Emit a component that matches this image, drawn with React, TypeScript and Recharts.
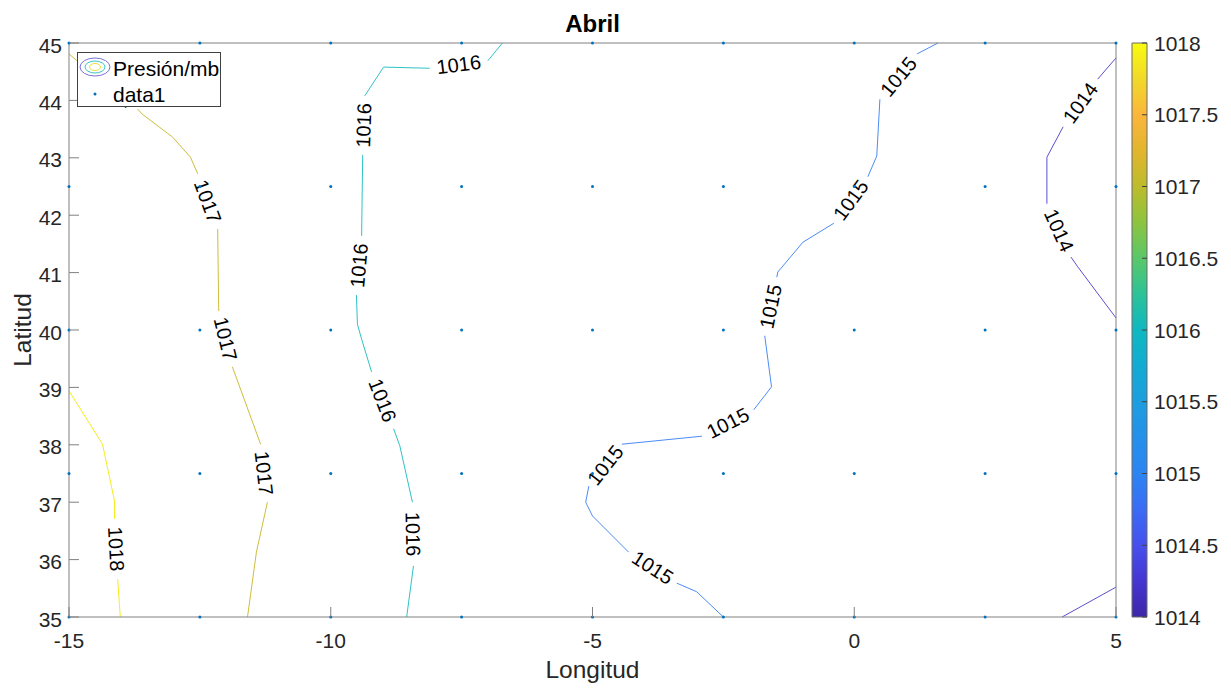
import React from 'react';
import { ComposedChart, Line, Scatter, Bar, XAxis, YAxis } from 'recharts';

// ---------- data ----------
const lonTicks = [-15, -10, -5, 0, 5];
const latTicks = [35, 36, 37, 38, 39, 40, 41, 42, 43, 44, 45];
const gridLon = [-15, -12.5, -10, -7.5, -5, -2.5, 0, 2.5, 5];
const gridLat = [35, 37.5, 40, 42.5, 45];
const pressureTicks = [1014, 1014.5, 1015, 1015.5, 1016, 1016.5, 1017, 1017.5, 1018];
const pressureRange = [1014, 1018];

type P = [number, number]; // [lon, lat]

// each contour: list of pieces; a label sits in each gap between pieces
const contour1014a: P[][] = [
  [[5.0, 44.74], [4.65, 44.37]],
  [[3.99, 43.54], [3.68, 43.01], [3.68, 42.2]],
  [[4.14, 41.27], [4.27, 41.1], [5.0, 40.21]],
];
const contour1014b: P[][] = [
  [[3.97, 35.0], [5.0, 35.52]],
];
const contour1015: P[][] = [
  [[1.6, 45.0], [1.2, 44.81]],
  [[0.49, 44.02], [0.43, 43.03], [0.26, 42.67]],
  [[-0.39, 41.86], [-0.98, 41.53], [-1.46, 41.01], [-1.48, 40.92]],
  [[-1.71, 39.9], [-1.58, 39.01], [-1.92, 38.61]],
  [[-2.91, 38.15], [-4.44, 38.01]],
  [[-5.07, 37.28], [-5.13, 37.0], [-5.0, 36.76], [-4.31, 36.13]],
  [[-3.39, 35.59], [-3.01, 35.44], [-2.5, 35.0]],
];
const contour1016: P[][] = [
  [[-6.72, 45.0], [-7.0, 44.69]],
  [[-8.11, 44.56], [-8.99, 44.58], [-9.35, 44.08]],
  [[-9.39, 43.05], [-9.41, 41.64]],
  [[-9.51, 40.61], [-9.49, 40.1], [-9.41, 39.84], [-9.22, 39.27]],
  [[-8.8, 38.28], [-8.68, 37.98], [-8.44, 37.0]],
  [[-8.42, 35.89], [-8.55, 35.0]],
];
const contour1017: P[][] = [
  [[-15.0, 44.81], [-14.86, 44.7], [-14.46, 44.44]],
  [[-13.69, 43.85], [-13.6, 43.76], [-13.02, 43.36], [-12.68, 43.01], [-12.54, 42.72]],
  [[-12.16, 41.76], [-12.14, 40.33]],
  [[-11.88, 39.36], [-11.34, 38.01]],
  [[-11.21, 37.0], [-11.42, 36.13], [-11.59, 35.0]],
];
const contour1018: P[][] = [
  [[-15.0, 38.94], [-14.36, 38.01], [-14.13, 37.02], [-14.13, 36.71]],
  [[-14.07, 35.66], [-14.02, 35.0]],
];

const contours = [
  { level: 1014, pieces: contour1014a },
  { level: 1014, pieces: contour1014b },
  { level: 1015, pieces: contour1015 },
  { level: 1016, pieces: contour1016 },
  { level: 1017, pieces: contour1017 },
  { level: 1018, pieces: contour1018 },
];

// ---------- styles ----------
const levelColor: Record<number, string> = {
  1014: '#5B50CF',
  1015: '#4B8CF4',
  1016: '#2FC3C6',
  1017: '#CDBE3C',
  1018: '#F3EF1E',
};
const W = 1231;
const H = 691;
const PLOT_W = 1047;
const PLOT_H = 574;
const AXIS = '#808080';
const TXT = '#262626';
const FONT = '"Liberation Sans", Arial, Helvetica, sans-serif';

const gridPoints = gridLat.flatMap((lat) => gridLon.map((lon) => ({ lon, lat })));
const colorbarData = [{ name: 'cb', range: pressureRange }];

const pxPerLon = PLOT_W / 20;
const pxPerLat = PLOT_H / 10;
const contourLabels = contours.flatMap((c) =>
  c.pieces.slice(0, -1).map((piece, i) => {
    const a = piece[piece.length - 1];
    const b = c.pieces[i + 1][0];
    const dx = (b[0] - a[0]) * pxPerLon;
    const dy = -(b[1] - a[1]) * pxPerLat;
    let ang = (Math.atan2(dy, dx) * 180) / Math.PI;
    if (ang > 90) ang -= 180;
    if (ang <= -90) ang += 180;
    return { lon: (a[0] + b[0]) / 2, lat: (a[1] + b[1]) / 2, text: String(c.level), angle: ang };
  })
);

const toPts = (p: P[]) => p.map(([lon, lat]) => ({ lon, lat }));

// ---------- tick renderers ----------
const BottomTick = (props: any) => {
  const { x, y, payload } = props;
  return (
    <g>
      <line x1={x} y1={y} x2={x} y2={y - 10} stroke={AXIS} />
      <text x={x} y={y + 31} textAnchor="middle" fontSize={21} fill={TXT}>
        {payload.value}
      </text>
    </g>
  );
};
const LeftTick = (props: any) => {
  const { x, y, payload } = props;
  return (
    <g>
      <line x1={x} y1={y} x2={x + 10} y2={y} stroke={AXIS} />
      <text x={x - 7} y={y + 9.5} textAnchor="end" fontSize={21} fill={TXT}>
        {payload.value}
      </text>
    </g>
  );
};
const TopTick = (props: any) => {
  const { x, y } = props;
  return <line x1={x} y1={y} x2={x} y2={y + 10} stroke={AXIS} />;
};
const RightTick = (props: any) => {
  const { x, y } = props;
  return <line x1={x} y1={y} x2={x - 10} y2={y} stroke={AXIS} />;
};
const CbTick = (props: any) => {
  const { x, y, payload } = props;
  return (
    <g>
      <line x1={x} y1={y} x2={x - 5} y2={y} stroke="#404040" />
      <text x={x + 7} y={y + 7.5} textAnchor="start" fontSize={21} fill={TXT}>
        {String(payload.value)}
      </text>
    </g>
  );
};

const LabelShape = (props: any) => {
  const { cx, cy, payload } = props;
  return (
    <text
      x={cx}
      y={cy}
      transform={`rotate(${payload.angle} ${cx} ${cy})`}
      textAnchor="middle"
      dominantBaseline="central"
      fontSize={20}
      fill="#000"
    >
      {payload.text}
    </text>
  );
};
const DotShape = (props: any) => {
  const { cx, cy } = props;
  return <circle cx={cx} cy={cy} r={1.5} fill="#0072BD" />;
};

export default function App() {
  return (
    <div style={{ position: 'absolute', left: 0, top: 0, width: W, height: H, background: '#fff', fontFamily: FONT }}>
      <div style={{ position: 'absolute', left: 0, top: 0 }}>
        <ComposedChart width={W} height={H} margin={{ top: 42, right: 114, bottom: 0, left: 10 }}>
          <XAxis
            xAxisId={0}
            dataKey="lon"
            type="number"
            domain={[-15, 5]}
            ticks={lonTicks}
            height={74}
            tickSize={0}
            tickMargin={0}
            tickLine={false}
            axisLine={{ stroke: AXIS }}
            tick={<BottomTick />}
            interval={0}
            label={{ value: 'Longitud', position: 'insideBottom', offset: 13, fontSize: 24.5, fill: TXT }}
          />
          <XAxis
            xAxisId="top"
            orientation="top"
            dataKey="lon"
            type="number"
            domain={[-15, 5]}
            ticks={lonTicks}
            height={1}
            tickSize={0}
            tickMargin={0}
            tickLine={false}
            axisLine={{ stroke: AXIS }}
            tick={<TopTick />}
            interval={0}
            label={{ value: 'Abril', position: 'top', offset: 10, fontSize: 24, fontWeight: 'bold', fill: '#000' }}
          />
          <YAxis
            yAxisId={0}
            dataKey="lat"
            type="number"
            domain={[35, 45]}
            ticks={latTicks}
            width={59}
            tickSize={0}
            tickMargin={0}
            tickLine={false}
            axisLine={{ stroke: AXIS }}
            tick={<LeftTick />}
            interval={0}
            label={{ value: 'Latitud', position: 'insideLeft', angle: -90, offset: 12, fontSize: 24.5, fill: TXT, style: { textAnchor: 'middle' } }}
          />
          <YAxis
            yAxisId="right"
            orientation="right"
            dataKey="lat"
            type="number"
            domain={[35, 45]}
            ticks={latTicks}
            width={1}
            tickSize={0}
            tickMargin={0}
            tickLine={false}
            axisLine={{ stroke: AXIS }}
            tick={<RightTick />}
            interval={0}
          />
          {contours.flatMap((c, ci) =>
            c.pieces.map((piece, pi) => (
              <Line
                key={`c${ci}-${pi}`}
                data={toPts(piece)}
                dataKey="lat"
                type="linear"
                stroke={levelColor[c.level]}
                strokeWidth={1}
                dot={false}
                activeDot={false}
                isAnimationActive={false}
              />
            ))
          )}
          <Scatter data={contourLabels} dataKey="lat" shape={<LabelShape />} isAnimationActive={false} />
          <Scatter data={gridPoints} dataKey="lat" shape={<DotShape />} isAnimationActive={false} />
        </ComposedChart>
      </div>

      {/* colorbar */}
      <div style={{ position: 'absolute', left: 1100, top: 0 }}>
        <ComposedChart
          width={131}
          height={H}
          data={colorbarData}
          margin={{ top: 43, right: 0, bottom: 74, left: 32 }}
          barCategoryGap={0}
        >
          <defs>
            <linearGradient id="parula" x1="0" y1="0" x2="0" y2="1">
              <stop offset="0" stopColor="#F9FB0E" />
              <stop offset="0.0625" stopColor="#F1D929" />
              <stop offset="0.125" stopColor="#FBB63C" />
              <stop offset="0.1875" stopColor="#E2B52E" />
              <stop offset="0.25" stopColor="#BDBC2C" />
              <stop offset="0.3125" stopColor="#8DC43F" />
              <stop offset="0.375" stopColor="#5AC769" />
              <stop offset="0.4375" stopColor="#2DC298" />
              <stop offset="0.5" stopColor="#0EB8C0" />
              <stop offset="0.5625" stopColor="#12ABD3" />
              <stop offset="0.625" stopColor="#1C9EDF" />
              <stop offset="0.6875" stopColor="#2490EA" />
              <stop offset="0.75" stopColor="#2C84F2" />
              <stop offset="0.8125" stopColor="#3A6CF5" />
              <stop offset="0.875" stopColor="#4650EE" />
              <stop offset="0.9375" stopColor="#4536D2" />
              <stop offset="1" stopColor="#3E26A8" />
            </linearGradient>
          </defs>
          <XAxis dataKey="name" type="category" hide />
          <YAxis
            orientation="right"
            type="number"
            domain={[1014, 1018]}
            ticks={pressureTicks}
            width={84}
            tickSize={0}
            tickMargin={0}
            tickLine={false}
            axisLine={false}
            tick={<CbTick />}
            interval={0}
          />
          <Bar dataKey="range" fill="url(#parula)" stroke="#6a6a6a" strokeWidth={1} isAnimationActive={false} />
        </ComposedChart>
      </div>

      {/* legend */}
      <svg style={{ position: 'absolute', left: 77, top: 52 }} width={145} height={56}>
        <rect x={0.5} y={0.5} width={143} height={54} fill="#fff" stroke="#404040" strokeWidth={1} />
        <ellipse cx={18} cy={15} rx={15} ry={9} fill="none" stroke="#7B70D8" strokeWidth={1} />
        <ellipse cx={18} cy={15} rx={10} ry={6} fill="none" stroke="#3CC4C4" strokeWidth={1} />
        <ellipse cx={18} cy={15} rx={5.5} ry={3.5} fill="none" stroke="#E8E040" strokeWidth={1} />
        <text x={36} y={24} fontSize={21} fill="#000">Presión/mb</text>
        <circle cx={18} cy={42} r={1.5} fill="#0072BD" />
        <text x={36} y={50} fontSize={21} fill="#000">data1</text>
      </svg>
    </div>
  );
}
